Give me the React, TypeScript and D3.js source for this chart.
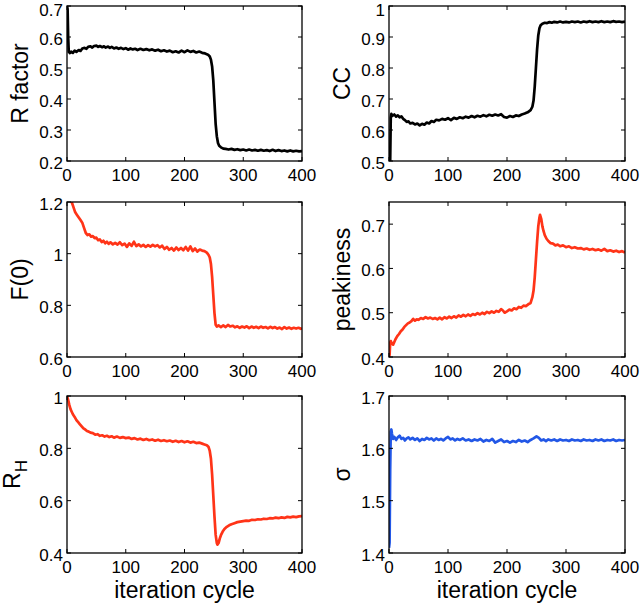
import React, { useEffect, useRef } from 'react';
import * as d3 from 'd3';

type Pt = [number, number];

const xTicks = [0, 100, 200, 300, 400];

const rFactor: Pt[] = [
  [0, 0.7], [1, 0.69], [2, 0.6], [3, 0.552], [5, 0.548], [7, 0.553], [10, 0.549], [13, 0.556], [16, 0.552], [20, 0.558],
  [23, 0.555], [26, 0.563], [30, 0.565], [33, 0.562], [36, 0.568], [40, 0.57], [43, 0.566], [46, 0.571], [50, 0.572],
  [53, 0.568], [56, 0.571], [60, 0.567], [63, 0.57], [66, 0.566], [70, 0.569], [73, 0.565], [76, 0.568], [80, 0.563],
  [84, 0.566], [88, 0.562], [92, 0.565], [96, 0.561], [100, 0.564], [104, 0.559], [108, 0.563], [112, 0.56], [116, 0.562],
  [120, 0.558], [125, 0.562], [130, 0.558], [135, 0.561], [140, 0.557], [145, 0.56], [150, 0.556], [155, 0.559],
  [160, 0.554], [165, 0.557], [170, 0.553], [175, 0.556], [180, 0.551], [185, 0.554], [190, 0.55], [195, 0.556],
  [200, 0.551], [205, 0.557], [210, 0.552], [215, 0.555], [220, 0.55], [225, 0.553], [230, 0.549], [235, 0.547],
  [240, 0.543], [243, 0.537], [245, 0.527], [247, 0.505], [249, 0.46], [251, 0.39], [253, 0.32], [255, 0.28],
  [257, 0.258], [259, 0.249], [262, 0.244], [266, 0.24], [270, 0.239], [275, 0.237], [280, 0.239], [285, 0.236],
  [290, 0.238], [295, 0.235], [300, 0.237], [305, 0.234], [310, 0.237], [315, 0.234], [320, 0.236], [325, 0.233],
  [330, 0.236], [335, 0.233], [340, 0.235], [345, 0.232], [350, 0.236], [355, 0.232], [360, 0.235], [365, 0.232],
  [370, 0.234], [375, 0.231], [380, 0.234], [385, 0.231], [390, 0.233], [395, 0.231], [400, 0.232],
];

const cc: Pt[] = [
  [0, 0.5], [2, 0.5], [3, 0.64], [4, 0.652], [6, 0.646], [9, 0.65], [12, 0.643], [15, 0.647], [18, 0.641], [21, 0.644],
  [24, 0.636], [27, 0.632], [30, 0.626], [33, 0.628], [36, 0.621], [40, 0.623], [44, 0.618], [48, 0.621], [52, 0.615],
  [56, 0.62], [60, 0.617], [64, 0.624], [68, 0.621], [72, 0.629], [76, 0.626], [80, 0.633], [85, 0.631], [90, 0.636],
  [95, 0.633], [100, 0.638], [105, 0.632], [110, 0.639], [115, 0.636], [120, 0.641], [125, 0.638], [130, 0.643],
  [135, 0.64], [140, 0.645], [145, 0.641], [150, 0.646], [155, 0.643], [160, 0.648], [165, 0.644], [170, 0.649],
  [175, 0.646], [180, 0.65], [185, 0.647], [190, 0.651], [195, 0.642], [200, 0.64], [205, 0.645], [210, 0.642],
  [215, 0.647], [220, 0.645], [225, 0.65], [230, 0.653], [235, 0.657], [240, 0.664], [243, 0.675], [245, 0.695],
  [247, 0.74], [249, 0.8], [251, 0.86], [253, 0.905], [255, 0.928], [257, 0.938], [260, 0.943], [264, 0.946],
  [268, 0.945], [272, 0.948], [276, 0.946], [280, 0.949], [285, 0.947], [290, 0.95], [295, 0.947], [300, 0.949],
  [305, 0.947], [310, 0.95], [315, 0.948], [320, 0.95], [325, 0.947], [330, 0.95], [335, 0.948], [340, 0.951],
  [345, 0.948], [350, 0.95], [355, 0.948], [360, 0.951], [365, 0.948], [370, 0.95], [375, 0.948], [380, 0.951],
  [385, 0.949], [390, 0.95], [395, 0.948], [400, 0.95],
];

const f0: Pt[] = [
  [0, 1.32], [4, 1.26], [8, 1.2], [11, 1.18], [14, 1.16], [17, 1.15], [20, 1.14], [23, 1.13], [26, 1.12], [29, 1.1],
  [32, 1.08], [35, 1.072], [38, 1.075], [41, 1.066], [44, 1.068], [47, 1.06], [50, 1.062], [53, 1.052], [56, 1.055],
  [59, 1.045], [62, 1.05], [65, 1.04], [68, 1.046], [71, 1.038], [74, 1.044], [78, 1.036], [82, 1.042], [86, 1.035],
  [90, 1.044], [94, 1.033], [98, 1.039], [102, 1.026], [106, 1.04], [110, 1.03], [114, 1.046], [118, 1.029],
  [122, 1.036], [126, 1.028], [130, 1.034], [134, 1.026], [138, 1.033], [142, 1.027], [146, 1.034], [150, 1.028],
  [154, 1.033], [158, 1.024], [162, 1.031], [166, 1.018], [170, 1.026], [174, 1.015], [178, 1.022], [182, 1.012],
  [186, 1.024], [190, 1.014], [194, 1.022], [198, 1.013], [202, 1.026], [206, 1.012], [210, 1.028], [214, 1.01],
  [218, 1.02], [222, 1.008], [226, 1.016], [230, 1.012], [234, 1.01], [238, 1.004], [241, 0.995], [243, 0.985],
  [245, 0.96], [247, 0.91], [249, 0.84], [251, 0.77], [253, 0.725], [255, 0.718], [258, 0.722], [262, 0.716],
  [266, 0.722], [270, 0.716], [274, 0.724], [278, 0.718], [282, 0.721], [286, 0.715], [290, 0.719], [294, 0.713],
  [298, 0.718], [302, 0.714], [306, 0.719], [310, 0.712], [314, 0.718], [318, 0.713], [322, 0.717], [326, 0.712],
  [330, 0.718], [334, 0.713], [338, 0.716], [342, 0.711], [346, 0.717], [350, 0.712], [354, 0.716], [358, 0.71],
  [362, 0.714], [366, 0.708], [370, 0.716], [374, 0.71], [378, 0.714], [382, 0.709], [386, 0.713], [390, 0.71],
  [394, 0.713], [398, 0.709], [400, 0.711],
];

const peakiness: Pt[] = [
  [0, 0.4], [1, 0.405], [2, 0.432], [3, 0.436], [5, 0.43], [7, 0.428], [9, 0.434], [11, 0.44], [14, 0.447], [17, 0.452],
  [20, 0.458], [23, 0.462], [26, 0.468], [29, 0.472], [32, 0.476], [35, 0.478], [38, 0.481], [41, 0.486], [44, 0.482],
  [47, 0.485], [50, 0.484], [54, 0.488], [58, 0.486], [62, 0.49], [66, 0.487], [70, 0.489], [74, 0.486], [78, 0.488],
  [82, 0.485], [86, 0.489], [90, 0.485], [94, 0.49], [98, 0.487], [102, 0.491], [106, 0.488], [110, 0.492],
  [114, 0.489], [118, 0.494], [122, 0.491], [126, 0.495], [130, 0.492], [134, 0.496], [138, 0.493], [142, 0.497],
  [146, 0.495], [150, 0.499], [154, 0.496], [158, 0.5], [162, 0.497], [166, 0.502], [170, 0.499], [174, 0.503],
  [178, 0.5], [182, 0.504], [186, 0.502], [190, 0.508], [193, 0.505], [196, 0.5], [200, 0.503], [204, 0.507],
  [208, 0.505], [212, 0.51], [216, 0.508], [220, 0.513], [224, 0.511], [228, 0.516], [232, 0.515], [236, 0.519],
  [240, 0.522], [243, 0.535], [245, 0.55], [247, 0.58], [249, 0.62], [251, 0.66], [253, 0.695], [255, 0.715],
  [256, 0.721], [258, 0.712], [260, 0.695], [262, 0.684], [264, 0.675], [267, 0.667], [270, 0.662], [274, 0.657],
  [278, 0.656], [282, 0.652], [286, 0.654], [290, 0.65], [295, 0.652], [300, 0.648], [305, 0.65], [310, 0.646],
  [315, 0.648], [320, 0.645], [325, 0.646], [330, 0.643], [335, 0.645], [340, 0.642], [345, 0.644], [350, 0.641],
  [355, 0.643], [360, 0.64], [365, 0.644], [370, 0.639], [375, 0.641], [380, 0.638], [385, 0.64], [390, 0.637],
  [395, 0.639], [400, 0.636],
];

const rH: Pt[] = [
  [0, 1.0], [2, 0.985], [4, 0.965], [6, 0.95], [8, 0.94], [10, 0.93], [13, 0.92], [16, 0.908], [19, 0.9], [22, 0.892],
  [25, 0.884], [28, 0.876], [31, 0.872], [34, 0.866], [37, 0.864], [40, 0.86], [44, 0.858], [48, 0.852], [52, 0.854],
  [56, 0.848], [60, 0.85], [64, 0.845], [68, 0.848], [72, 0.843], [76, 0.846], [80, 0.841], [85, 0.845], [90, 0.84],
  [95, 0.843], [100, 0.839], [105, 0.841], [110, 0.836], [115, 0.839], [120, 0.834], [125, 0.837], [130, 0.832],
  [135, 0.836], [140, 0.831], [145, 0.834], [150, 0.829], [155, 0.833], [160, 0.828], [165, 0.831], [170, 0.827],
  [175, 0.83], [180, 0.825], [185, 0.829], [190, 0.824], [195, 0.828], [200, 0.823], [205, 0.827], [210, 0.822],
  [215, 0.825], [220, 0.82], [225, 0.822], [230, 0.818], [234, 0.815], [238, 0.812], [241, 0.805], [243, 0.79],
  [245, 0.76], [247, 0.7], [249, 0.62], [251, 0.54], [253, 0.47], [255, 0.438], [256, 0.432], [258, 0.438],
  [260, 0.455], [262, 0.468], [265, 0.482], [268, 0.492], [272, 0.5], [276, 0.506], [280, 0.51], [285, 0.514],
  [290, 0.518], [295, 0.52], [300, 0.522], [305, 0.524], [310, 0.523], [315, 0.527], [320, 0.526], [325, 0.529],
  [330, 0.528], [335, 0.531], [340, 0.53], [345, 0.533], [350, 0.532], [355, 0.535], [360, 0.533], [365, 0.536],
  [370, 0.534], [375, 0.538], [380, 0.536], [385, 0.539], [390, 0.537], [395, 0.54], [400, 0.541],
];

const sigma: Pt[] = [
  [0, 1.41], [1, 1.42], [2, 1.56], [3, 1.632], [4, 1.636], [5, 1.628], [7, 1.618], [9, 1.622], [12, 1.616], [15, 1.621],
  [18, 1.624], [21, 1.618], [24, 1.62], [27, 1.615], [30, 1.619], [33, 1.621], [36, 1.617], [40, 1.62], [44, 1.616],
  [48, 1.619], [52, 1.614], [56, 1.618], [60, 1.616], [64, 1.62], [68, 1.617], [72, 1.619], [76, 1.615], [80, 1.619],
  [84, 1.616], [88, 1.618], [92, 1.615], [96, 1.619], [100, 1.622], [104, 1.617], [108, 1.619], [112, 1.615],
  [116, 1.618], [120, 1.616], [125, 1.619], [130, 1.615], [135, 1.617], [140, 1.614], [145, 1.617], [150, 1.615],
  [155, 1.618], [160, 1.613], [165, 1.616], [170, 1.614], [175, 1.618], [180, 1.611], [185, 1.614], [190, 1.617],
  [195, 1.612], [200, 1.614], [205, 1.611], [210, 1.614], [215, 1.612], [220, 1.616], [225, 1.613], [230, 1.615],
  [235, 1.612], [240, 1.616], [245, 1.619], [250, 1.623], [254, 1.62], [258, 1.615], [262, 1.617], [266, 1.614],
  [270, 1.617], [275, 1.615], [280, 1.617], [285, 1.614], [290, 1.617], [295, 1.615], [300, 1.616], [305, 1.614],
  [310, 1.617], [315, 1.615], [320, 1.616], [325, 1.614], [330, 1.617], [335, 1.615], [340, 1.616], [345, 1.614],
  [350, 1.617], [355, 1.615], [360, 1.617], [365, 1.614], [370, 1.616], [375, 1.615], [380, 1.617], [385, 1.614],
  [390, 1.616], [395, 1.615], [400, 1.616],
];

const rFactorTicks = [0.2, 0.3, 0.4, 0.5, 0.6, 0.7];
const ccTicks = [0.5, 0.6, 0.7, 0.8, 0.9, 1];
const f0Ticks = [0.6, 0.8, 1, 1.2];
const peakinessTicks = [0.4, 0.5, 0.6, 0.7];
const rHTicks = [0.4, 0.6, 0.8, 1];
const sigmaTicks = [1.4, 1.5, 1.6, 1.7];

const BLACK = '#000';
const RED = '#ff3418';
const BLUE = '#2257e6';

const cols = [[67, 302], [389, 625]];
const rows = [[6, 161], [202, 357], [396, 553]];

const panels = [
  { data: rFactor, domain: [0.2, 0.7], ticks: rFactorTicks, label: 'R factor', color: BLACK, col: 0, row: 0 },
  { data: cc, domain: [0.5, 1], ticks: ccTicks, label: 'CC', color: BLACK, col: 1, row: 0 },
  { data: f0, domain: [0.6, 1.2], ticks: f0Ticks, label: 'F(0)', color: RED, col: 0, row: 1 },
  { data: peakiness, domain: [0.4, 0.75], ticks: peakinessTicks, label: 'peakiness', color: RED, col: 1, row: 1 },
  { data: rH, domain: [0.4, 1], ticks: rHTicks, label: 'R_H', color: RED, col: 0, row: 2 },
  { data: sigma, domain: [1.4, 1.7], ticks: sigmaTicks, label: 'σ', color: BLUE, col: 1, row: 2 },
];

const FONT = 'Liberation Sans, Arial, Helvetica, sans-serif';

const App: React.FC = () => {
  const ref = useRef<SVGSVGElement>(null);

  useEffect(() => {
    const svg = d3.select(ref.current);
    svg.selectAll('*').remove();

    panels.forEach((p, i) => {
      const [x0, x1] = cols[p.col];
      const [y0, y1] = rows[p.row];
      const x = d3.scaleLinear().domain([0, 400]).range([x0, x1]);
      const y = d3.scaleLinear().domain(p.domain).range([y1, y0]);

      const g = svg.append('g');
      const clipId = `clip${i}`;
      g.append('clipPath').attr('id', clipId)
        .append('rect').attr('x', x0).attr('y', y0).attr('width', x1 - x0).attr('height', y1 - y0);

      const line = d3.line<Pt>().x(d => x(d[0])).y(d => y(d[1]));
      g.append('path')
        .datum(p.data)
        .attr('clip-path', `url(#${clipId})`)
        .attr('d', line)
        .attr('fill', 'none')
        .attr('stroke', p.color)
        .attr('stroke-width', 2.7)
        .attr('stroke-linejoin', 'round');

      // box
      g.append('rect')
        .attr('x', x0).attr('y', y0).attr('width', x1 - x0).attr('height', y1 - y0)
        .attr('fill', 'none').attr('stroke', '#000').attr('stroke-width', 1.3);

      const tl = 4;
      // x ticks, inside at bottom and top
      xTicks.forEach(t => {
        g.append('line').attr('x1', x(t)).attr('x2', x(t)).attr('y1', y1).attr('y2', y1 - tl)
          .attr('stroke', '#000').attr('stroke-width', 1);
        g.append('line').attr('x1', x(t)).attr('x2', x(t)).attr('y1', y0).attr('y2', y0 + tl)
          .attr('stroke', '#000').attr('stroke-width', 1);
        g.append('text').attr('x', x(t)).attr('y', y1 + 20)
          .attr('text-anchor', 'middle').attr('font-family', FONT).attr('font-size', 17)
          .text(String(t));
      });

      // y ticks
      p.ticks.forEach(t => {
        g.append('line').attr('x1', x0).attr('x2', x0 + tl).attr('y1', y(t)).attr('y2', y(t))
          .attr('stroke', '#000').attr('stroke-width', 1);
        g.append('line').attr('x1', x1).attr('x2', x1 - tl).attr('y1', y(t)).attr('y2', y(t))
          .attr('stroke', '#000').attr('stroke-width', 1);
        // keep the top label inside the page
        const base = Math.max(y(t) + 7.6, 16);
        g.append('text').attr('x', x0 - 4).attr('y', base)
          .attr('text-anchor', 'end').attr('font-family', FONT).attr('font-size', 17)
          .text(String(t));
      });

      // y label
      const lx = x0 - 39;
      const ly = (y0 + y1) / 2;
      const lab = g.append('text')
        .attr('transform', `translate(${lx},${ly}) rotate(-90)`)
        .attr('text-anchor', 'middle').attr('font-family', FONT).attr('font-size', 23);
      if (p.label === 'R_H') {
        lab.attr('transform', `translate(${lx - 8},${ly}) rotate(-90)`);
        lab.append('tspan').text('R');
        lab.append('tspan').attr('dy', 7).attr('font-size', 17).text('H');
      } else {
        lab.text(p.label);
      }

      if (p.row === 2) {
        g.append('text').attr('x', (x0 + x1) / 2).attr('y', 598)
          .attr('text-anchor', 'middle').attr('font-family', FONT).attr('font-size', 23)
          .text('iteration cycle');
      }
    });
  }, []);

  return (
    <svg ref={ref} width={640} height={607}
      style={{ position: 'absolute', left: 0, top: 0, background: '#fff' }} />
  );
};

export default App;
